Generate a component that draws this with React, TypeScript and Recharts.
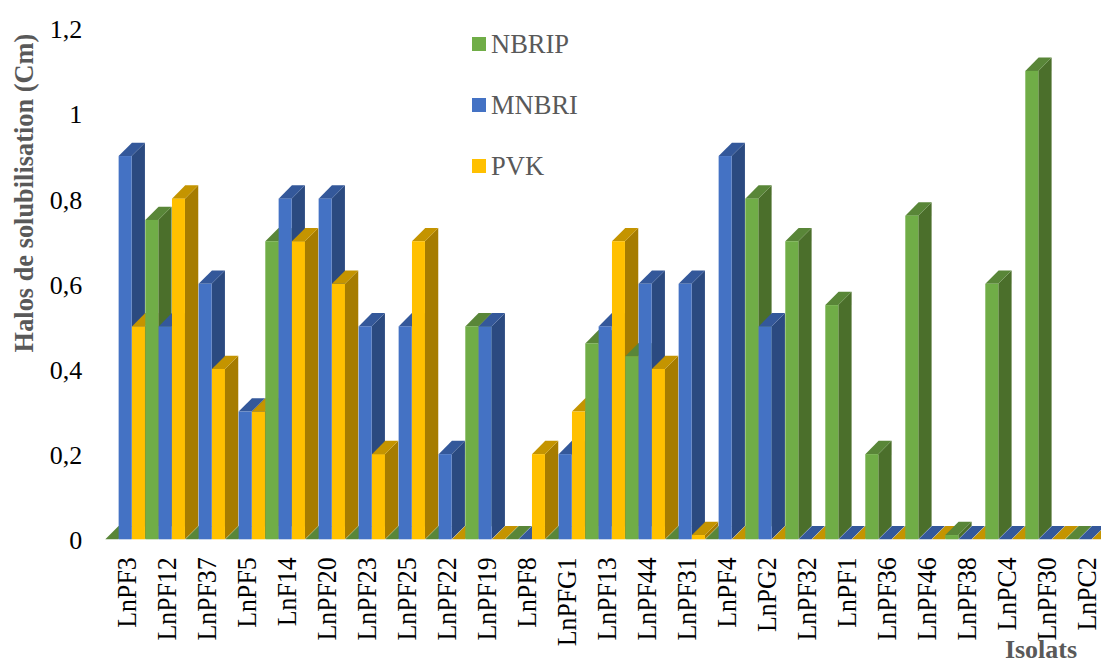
import React from 'react';
import { BarChart, Bar, XAxis, YAxis, Legend, Label } from 'recharts';

const isolats = [
  'LnPF3', 'LnPF12', 'LnPF37', 'LnPF5', 'LnF14', 'LnPF20', 'LnPF23', 'LnPF25', 'LnPF22', 'LnPF19',
  'LnPF8', 'LnPFG1', 'LnPF13', 'LnPF44', 'LnPF31', 'LnPF4', 'LnPG2', 'LnPF32', 'LnPF1', 'LnPF36',
  'LnPF46', 'LnPF38', 'LnPC4', 'LnPF30', 'LnPC2',
];
const nbrip = [0, 0.75, 0, 0, 0.7, 0, 0, 0, 0, 0.5, 0, 0, 0.46, 0.43, 0, 0, 0.8, 0.7, 0.55, 0.2, 0.76, 0.01, 0.6, 1.1, 0];
const mnbri = [0.9, 0.5, 0.6, 0.3, 0.8, 0.8, 0.5, 0.5, 0.2, 0.5, 0, 0.2, 0.5, 0.6, 0.6, 0.9, 0.5, 0, 0, 0, 0, 0, 0, 0, 0];
const pvk = [0.5, 0.8, 0.4, 0.3, 0.7, 0.6, 0.2, 0.7, 0, 0, 0.2, 0.3, 0.7, 0.4, 0.01, 0, 0, 0, 0, 0, 0, 0, 0, 0, 0];
const yTicks = [0, 0.2, 0.4, 0.6, 0.8, 1, 1.2];

const SERIES = [
  { name: 'NBRIP', values: nbrip, front: '#70ad47', side: '#4b6f2b', top: '#598638' },
  { name: 'MNBRI', values: mnbri, front: '#4472c4', side: '#2b4a80', top: '#34589a' },
  { name: 'PVK', values: pvk, front: '#ffc000', side: '#a67c00', top: '#c49400' },
];

// one row per bar, so the bars paint strictly left to right like the 3D original
const rows = isolats.flatMap((isolat, i) =>
  SERIES.map((s, k) => ({
    slot: `${isolat}-${s.name}`,
    isolat,
    value: s.values[i],
    seriesIndex: k,
  })),
);

const DEPTH = 13.3;
const SERIF = '"Liberation Serif", serif';

function Bar3D(props: any) {
  const { x, y, width, height, payload } = props;
  const s = SERIES[payload.seriesIndex];
  const right = x + width;
  const bottom = y + height;
  return (
    <g>
      <polygon
        points={`${right},${y} ${right + DEPTH},${y - DEPTH} ${right + DEPTH},${bottom - DEPTH} ${right},${bottom}`}
        fill={s.side}
      />
      <polygon
        points={`${x},${y} ${x + DEPTH},${y - DEPTH} ${right + DEPTH},${y - DEPTH} ${right},${y}`}
        fill={s.top}
      />
      <rect x={x} y={y} width={width} height={height} fill={s.front} />
    </g>
  );
}

function IsolatTick(props: any) {
  const { x, y, payload, index } = props;
  if (index % 3 !== 1) return <g />;
  return (
    <text
      transform={`translate(${x + 11},${y + 12}) rotate(-90) scale(0.94,1)`}
      textAnchor="end"
      fontFamily={SERIF}
      fontSize={27.5}
      fill="#000"
    >
      {rows[index]?.isolat ?? payload.value}
    </text>
  );
}

function YTick(props: any) {
  const { x, y, payload } = props;
  return (
    <text x={x} y={y + 10} textAnchor="end" fontFamily={SERIF} fontSize={26} fill="#000">
      {String(payload.value).replace('.', ',')}
    </text>
  );
}

function LegendBox() {
  return (
    <div style={{ fontFamily: SERIF, fontSize: 26.5, color: '#595959' }}>
      {SERIES.map((s) => (
        <div key={s.name} style={{ display: 'flex', alignItems: 'center', height: 61 }}>
          <span style={{ width: 14, height: 14, background: s.front, marginRight: 5 }} />
          <span style={{ lineHeight: '30px' }}>{s.name}</span>
        </div>
      ))}
    </div>
  );
}

export default function App() {
  return (
    <div style={{ position: 'absolute', left: 0, top: 0, width: 1101, height: 662, overflow: 'hidden', background: '#fff' }}>
      <BarChart
        width={1105.3}
        height={662}
        data={rows}
        barCategoryGap={0}
        margin={{ top: 28.3, right: 0, bottom: 0, left: 0 }}
      >
        <XAxis
          dataKey="slot"
          height={122.7}
          interval={0}
          axisLine={false}
          tickLine={false}
          tick={<IsolatTick />}
          tickMargin={0}
        >
          <Label
            content={() => (
              <text x={1041} y={658} textAnchor="middle" fontFamily={SERIF} fontSize={26} fontWeight="bold" fill="#595959">
                Isolats
              </text>
            )}
          />
        </XAxis>
        <YAxis
          width={105.3}
          domain={[0, 1.2]}
          ticks={yTicks}
          axisLine={false}
          tickLine={false}
          tickMargin={17}
          tick={<YTick />}
        >
          <Label
            content={() => (
              <text
                transform="translate(33,193) rotate(-90)"
                textAnchor="middle"
                fontFamily={SERIF}
                fontSize={26.4}
                fontWeight="bold"
                fill="#595959"
              >
                Halos de solubilisation (Cm)
              </text>
            )}
          />
        </YAxis>
        <Legend
          layout="horizontal"
          align="center"
          verticalAlign="middle"
          content={<LegendBox />}
          wrapperStyle={{ left: 472, top: 13, width: 130 }}
        />
        <Bar dataKey="value" shape={<Bar3D />} isAnimationActive={false} />
      </BarChart>
    </div>
  );
}
